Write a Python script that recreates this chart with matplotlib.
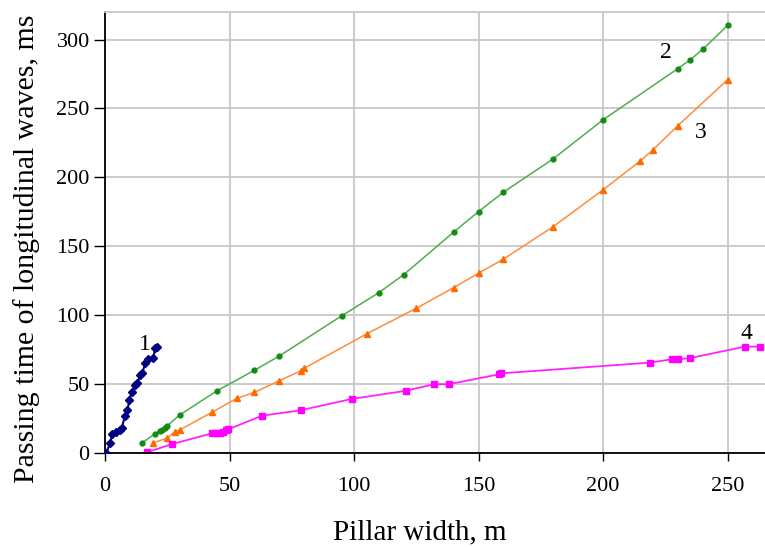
import matplotlib
matplotlib.use("Agg")
import matplotlib.pyplot as plt

plt.rcParams['font.family'] = ['Liberation Serif', 'DejaVu Serif']

# curve 1
x1 = [0.5, 2, 3, 4.3, 6, 6.7, 8, 9, 9.8, 10.7, 12, 13, 14.1, 15, 16.1, 17.2, 19.4, 20.1, 21]
y1 = [0, 7, 14, 15.5, 16.7, 18, 27, 31, 38.5, 44.5, 49, 50.6, 56.6, 58, 65, 68, 69, 76, 76.7]

# curve 2
x2 = [15, 20, 22, 23, 24, 25, 30, 45, 60, 70, 95, 110, 120, 140, 150, 160, 180, 200, 230, 235, 240, 250]
y2 = [7.5, 13.8, 16.2, 16.7, 18.4, 19.8, 27.6, 45.2, 60, 70.4, 99.5, 116.4, 129.5, 160.3, 175.2, 189.3,
      213.5, 241.8, 278.9, 285.4, 292.9, 310.3]

# curve 3
x3 = [19.4, 25, 28, 30, 43, 53, 60, 70, 78.5, 80, 105, 125, 140, 150, 160, 180, 200, 215, 220, 230, 250]
y3 = [7.5, 10.7, 15.5, 16.7, 29.6, 39.7, 44, 52.5, 59.5, 61.5, 86.4, 105, 120, 130.5, 140.7, 164.3,
      191, 212, 220, 237.5, 270.9]

# curve 4
x4 = [16.8, 27, 43, 44.5, 46, 47.5, 48.5, 49.5, 63, 78.5, 99, 121, 132, 138, 158, 159, 219, 227.5, 230,
      234.7, 257, 263]
y4 = [0.5, 6.5, 14.3, 14.3, 14.6, 15.5, 16.5, 17.2, 27, 31, 39.2, 45.2, 49.9, 49.9, 57, 57.8, 65.6, 68,
      68, 68.8, 77.2, 77.2]

labels = ['1', '2', '3', '4']
label_pos = [(16.1, 79), (225.4, 290.5), (239.4, 232.4), (257.5, 87)]

fig = plt.figure(figsize=(7.65, 5.47), dpi=100)
ax = fig.add_axes([105 / 765, 1 - 453 / 547, 1 - 105 / 765, (453 - 12) / 547])

ax.plot(x1, y1, '-D', color='#000080', lw=1.5, ms=3.8, zorder=5)
ax.plot(x2, y2, '-o', color='#4cae4c', mfc='#138a13', mec='#138a13', lw=1.1, ms=3.5)
ax.plot(x3, y3, '-^', color='#ff8c3a', mfc='#ff6a00', mec='#ff6a00', lw=1.1, ms=4.5)
ax.plot(x4, y4, '-s', color='#ff22ff', mfc='#ff00ff', mec='#ff00ff', lw=1.3, ms=4.5)

for lab, (lx, ly) in zip(labels, label_pos):
    ax.text(lx, ly, lab, fontsize=17, ha='center', va='center')

ax.set_xlim(0, 265)
ax.set_ylim(0, 320)
ax.set_xticks([0, 50, 100, 150, 200, 250])
ax.set_yticks([0, 50, 100, 150, 200, 250, 300])
ax.grid(True, color='#c8c8c8', lw=1.3)
ax.set_axisbelow(True)
ax.spines['right'].set_visible(False)
ax.spines['top'].set_color('#c8c8c8')
ax.spines['top'].set_linewidth(1.3)
ax.spines['left'].set_linewidth(1.3)
ax.spines['bottom'].set_linewidth(1.3)
ax.tick_params(axis='y', direction='out', length=8, width=1, labelsize=16, pad=3)
ax.tick_params(axis='x', direction='out', length=6, width=1, labelsize=16, pad=11)

ax.set_xlabel('Pillar width, m', fontsize=21)
ax.set_ylabel('Passing time of longitudinal waves, ms', fontsize=21.5)
ax.xaxis.set_label_coords(0.477, -0.150)
ax.yaxis.set_label_coords(-0.099, 0.4626)

fig.savefig('out.png', dpi=100)
